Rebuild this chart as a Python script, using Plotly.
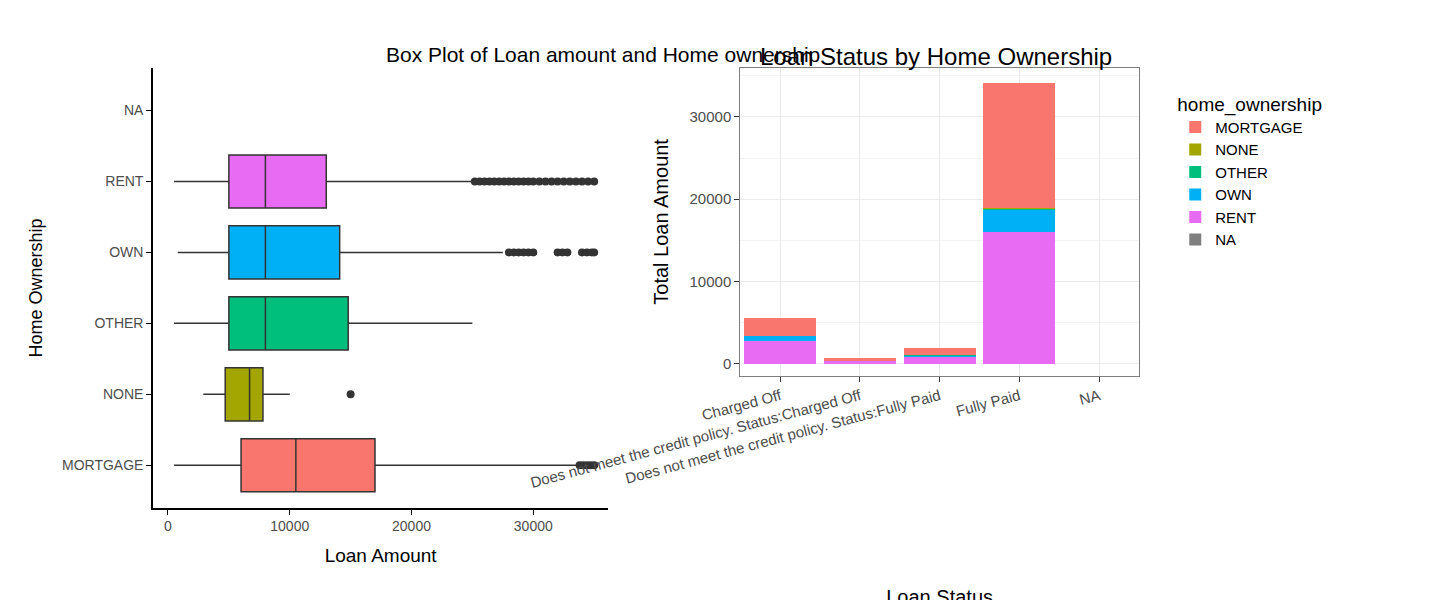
import plotly.graph_objects as go

# box plot stats
owners = ["MORTGAGE", "NONE", "OTHER", "OWN", "RENT"]
colors = {"MORTGAGE": "#F8766D", "NONE": "#A3A500", "OTHER": "#00BF7D",
          "OWN": "#00B0F6", "RENT": "#E76BF3", "NA": "#7F7F7F"}
low = [500, 2900, 500, 800, 500]
q1 = [6000, 4700, 5000, 5000, 5000]
med = [10500, 6700, 8000, 8000, 8000]
q3 = [17000, 7800, 14800, 14100, 13000]
high = [33600, 10000, 25000, 27500, 25000]
outliers = {
    "MORTGAGE": [33800, 34100, 34400, 34700, 35000],
    "NONE": [15000],
    "OTHER": [],
    "OWN": [28000, 28400, 28800, 29200, 29600, 30000, 32000, 32400, 32800, 34000, 34400, 34800, 35000],
    "RENT": [25200, 25600, 26000, 26400, 26800, 27200, 27600, 28000, 28400, 28800, 29200, 29600, 30000,
             30500, 31000, 31500, 32000, 32500, 33000, 33500, 34000, 34500, 35000],
}

# stacked bar values
statuses = ["Charged Off", "Does not meet the credit policy. Status:Charged Off",
            "Does not meet the credit policy. Status:Fully Paid", "Fully Paid", "NA"]
rent = [2800, 350, 800, 16000, 0]
own = [600, 50, 250, 2800, 0]
other = [20, 0, 10, 60, 0]
none_ = [0, 0, 0, 20, 0]
mortgage = [2200, 300, 900, 15200, 0]
na = [0, 0, 0, 0, 0]

fig = go.Figure()

for i, h in enumerate(owners):
    fig.add_trace(go.Box(y=[h], q1=[q1[i]], median=[med[i]], q3=[q3[i]],
                         lowerfence=[low[i]], upperfence=[high[i]], orientation="h",
                         fillcolor=colors[h], line=dict(color="#333333", width=1.5),
                         width=0.75, whiskerwidth=0, showlegend=False, xaxis="x", yaxis="y",
                         boxpoints=False, hoverinfo="skip"))
    if outliers[h]:
        fig.add_trace(go.Scatter(x=outliers[h], y=[h] * len(outliers[h]), mode="markers",
                                 marker=dict(color="#333333", size=8), showlegend=False,
                                 xaxis="x", yaxis="y"))

bars = [("RENT", rent), ("OWN", own), ("OTHER", other), ("NONE", none_), ("MORTGAGE", mortgage), ("NA", na)]
ranks = {"MORTGAGE": 1, "NONE": 2, "OTHER": 3, "OWN": 4, "RENT": 5, "NA": 6}
for name, vals in bars:
    fig.add_trace(go.Bar(x=statuses, y=vals, name=name, marker_color=colors[name],
                         marker_line_width=0, legendrank=ranks[name],
                         xaxis="x2", yaxis="y2"))

fig.update_layout(
    width=1450, height=600, barmode="stack", bargap=0.1,
    plot_bgcolor="white", paper_bgcolor="white",
    margin=dict(l=0, r=0, t=0, b=0, autoexpand=False),
    font=dict(family="Liberation Sans Narrow, Liberation Sans, Arial", color="#4D4D4D", size=14),
    xaxis=dict(domain=[0.1, 0.414], range=[-1230, 36160], tickvals=[0, 10000, 20000, 30000],
               tickformat="d", automargin=False,
               showgrid=False, zeroline=False, showline=True, linecolor="black", linewidth=1.5,
               ticks="outside", ticklen=5, tickcolor="black",
               title=dict(text="Loan Amount", font=dict(size=19, color="black"))),
    yaxis=dict(domain=[0.167, 0.9], type="category", automargin=False,
               categoryorder="array", categoryarray=owners + ["NA"], range=[-0.6, 5.6],
               showgrid=False, zeroline=False, showline=True, linecolor="black", linewidth=1.5,
               ticks="outside", ticklen=5, tickcolor="black",
               title=dict(text="Home Ownership", font=dict(family="Liberation Sans, Arial", size=18, color="black"))),
    xaxis2=dict(domain=[0.505, 0.78], anchor="y2", type="category", tickangle=-15, automargin=False,
                showgrid=True, gridcolor="#EBEBEB", showline=True, mirror=True,
                linecolor="#7F7F7F", ticks="outside", ticklen=5, tickcolor="#333333",
                tickfont=dict(family="Liberation Sans, Arial", size=15),
                title=dict(text="Loan Status", font=dict(family="Liberation Sans, Arial", size=20, color="black"),
                           standoff=110)),
    yaxis2=dict(domain=[0.387, 0.9], anchor="x2", range=[-1460, 35950], automargin=False,
                tickvals=[0, 10000, 20000, 30000], tickformat="d", showgrid=True, gridcolor="#EBEBEB",
                minor=dict(dtick=5000, tick0=0, showgrid=True, gridcolor="#F3F3F3"),
                zeroline=False, showline=True, mirror=True, linecolor="#7F7F7F",
                ticks="outside", ticklen=5, tickcolor="#333333",
                tickfont=dict(family="Liberation Sans, Arial", size=15),
                title=dict(text="Total Loan Amount", font=dict(family="Liberation Sans, Arial", size=20, color="black"))),
    legend=dict(x=0.805, y=0.87, xanchor="left", yanchor="top", traceorder="normal",
                title=dict(text="home_ownership", font=dict(family="Liberation Sans, Arial", size=19, color="black")),
                font=dict(family="Liberation Sans, Arial", size=15, color="black"),
                itemsizing="constant", tracegroupgap=8),
    annotations=[
        dict(text="Box Plot of Loan amount and Home ownership", x=0.259, y=0.945, xref="paper", yref="paper",
             showarrow=False, font=dict(size=21, color="black")),
        dict(text="Loan Status by Home Ownership", x=0.64, y=0.945, xref="paper", yref="paper",
             showarrow=False, font=dict(family="Liberation Sans, Arial", size=24, color="black")),
    ],
)

fig.write_html("out.html")
